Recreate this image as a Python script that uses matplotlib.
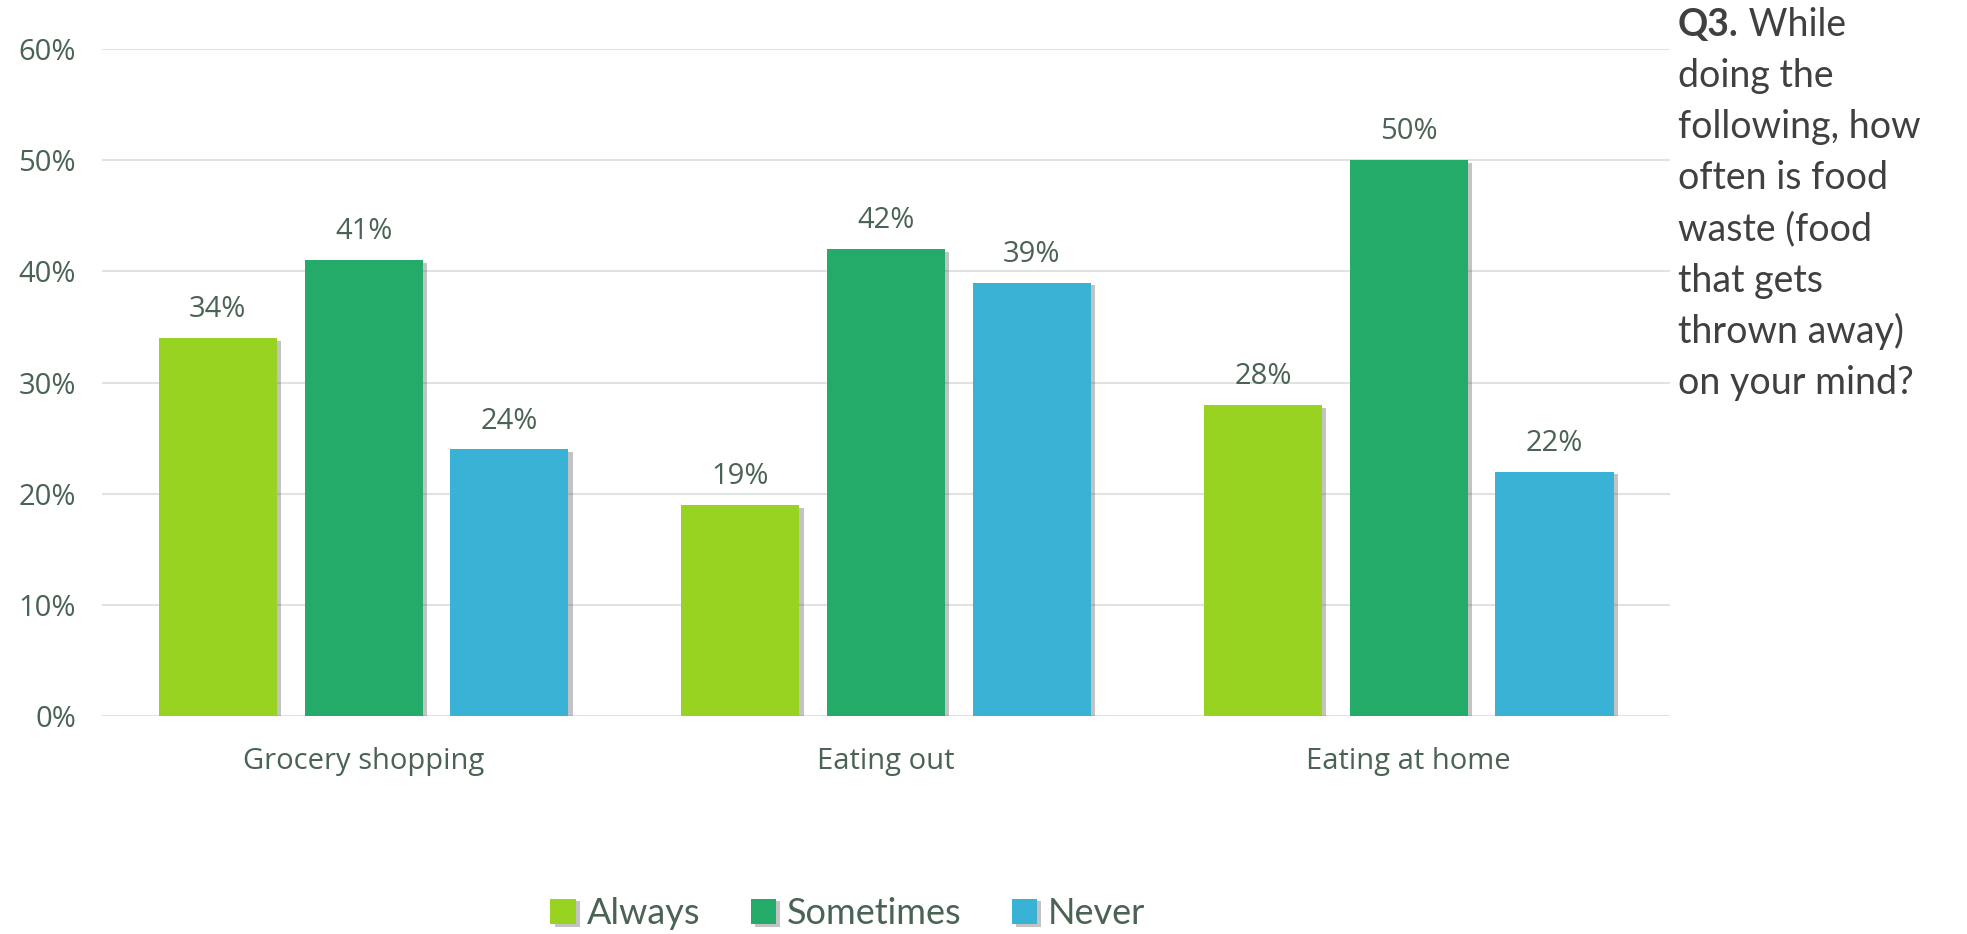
import numpy as np
import matplotlib.pyplot as plt
import matplotlib.patheffects as pe
from matplotlib.ticker import FuncFormatter

# dados
categorias = ["Grocery shopping", "Eating out", "Eating at home"]
series = ["Always", "Sometimes", "Never"]
always = [34, 19, 28]
sometimes = [41, 42, 50]
never = [24, 39, 22]
titulo = ["While", "doing the", "following, how", "often is food",
          "waste (food", "that gets", "thrown away)", "on your mind?"]

cores = ["#98d322", "#25ab69", "#3ab2d6"]
cor_texto = "#4a6354"
fonte_eixo = ['Open Sans', 'DejaVu Sans']

plt.rcParams['font.family'] = ['Lato', 'DejaVu Sans']

fig = plt.figure(figsize=(19.67, 9.34), dpi=100)
ax = fig.add_axes([0.052, 0.233, 0.797, 0.7145])

x = np.arange(len(categorias))
passo = 0.279
largura = 0.226
sombra = [pe.SimplePatchShadow(offset=(3, -2), shadow_rgbFace="#555555", alpha=0.35), pe.Normal()]

for i, (nome, valores) in enumerate(zip(series, [always, sometimes, never])):
    barras = ax.bar(x + (i - 1) * passo, valores, largura, color=cores[i], label=nome, zorder=3)
    for b in barras:
        b.set_path_effects(sombra)
    ax.bar_label(barras, labels=[f"{v}%" for v in valores], padding=10,
                 fontsize=21, color=cor_texto, family=fonte_eixo)

ax.set_xlim(-0.5, 2.5)
ax.set_ylim(0, 60)
ax.set_yticks(np.arange(0, 61, 10))
ax.yaxis.set_major_formatter(FuncFormatter(lambda v, p: f"{v:.0f}%"))
ax.set_xticks(x)
ax.set_xticklabels(categorias)
ax.tick_params(axis='both', length=0, labelsize=21, labelcolor=cor_texto)
ax.tick_params(axis='y', pad=19)
ax.tick_params(axis='x', pad=22)
for lbl in ax.get_xticklabels() + ax.get_yticklabels():
    lbl.set_family(fonte_eixo)
ax.grid(axis='y', color="#dde4e2", linewidth=1.5, zorder=0)
for s in ax.spines.values():
    s.set_visible(False)

fig.legend(loc='center', bbox_to_anchor=(0.431, 0.022), ncol=3, frameon=False,
           fontsize=26, labelcolor=cor_texto, handlelength=0.7, handleheight=0.7,
           handletextpad=0.3, columnspacing=1.4)

# texto da pergunta à direita
x0, y0, dy = 0.853, 0.973, 0.0547
q = fig.text(x0, y0, "Q3.", fontsize=27, fontweight='bold', color="#404040", va='center')
ax.annotate(" " + titulo[0], xy=(1, 0.5), xycoords=q, va='center', ha='left',
            fontsize=27, color="#404040", annotation_clip=False)
for i, linha in enumerate(titulo[1:], start=1):
    fig.text(x0, y0 - i * dy, linha, fontsize=27, color="#404040", va='center')

fig.savefig("out.png", dpi=100)
